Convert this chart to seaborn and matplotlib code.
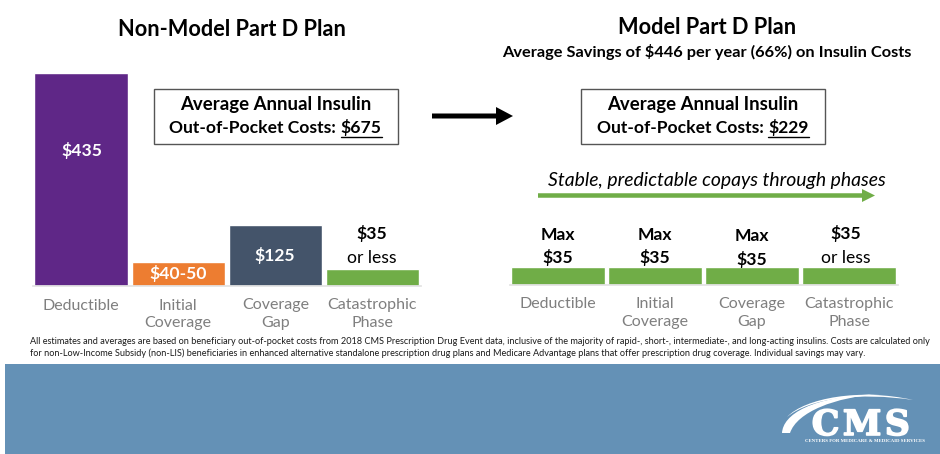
"""
plot.py
Part D insulin out-of-pocket costs: non-model plan vs model plan, per benefit phase.
"""

import matplotlib
matplotlib.use("Agg")
import matplotlib.patheffects as pe
import matplotlib.pyplot as plt
from matplotlib.patches import PathPatch, Rectangle
from matplotlib.path import Path
import pandas as pd
import seaborn as sns

# ── Data ──────────────────────────────────────────────────────────────────────
PHASES = ["Deductible", "Initial\nCoverage", "Coverage\nGap", "Catastrophic\nPhase"]
NON_MODEL_COSTS = [435, 50, 125, 35]
MODEL_COSTS = [35, 35, 35, 35]
NON_MODEL_COLORS = ["#5f2787", "#ed7d31", "#44546a", "#70ad47"]
MODEL_COLORS = ["#70ad47", "#70ad47", "#70ad47", "#70ad47"]

NON_MODEL_TOTAL = "$675"
MODEL_TOTAL = "$229"

FOOTNOTE = [
    "All estimates and averages are based on beneficiary out-of-pocket costs from 2018 CMS Prescription "
    "Drug Event data, inclusive of the majority of rapid-, short-, intermediate-, and long-acting insulins. "
    "Costs are calculated only",
    "for non-Low-Income Subsidy (non-LIS) beneficiaries in enhanced alternative standalone prescription "
    "drug plans and Medicare Advantage plans that offer prescription drug coverage. Individual savings may vary.",
]

W, H = 940, 454
PX_PER_DOLLAR = 213 / 435

sns.set_theme(style="white")
plt.rcParams["font.family"] = ["Lato", "DejaVu Sans"]
plt.rcParams["text.parse_math"] = False

fig = plt.figure(figsize=(W / 100, H / 100), dpi=100, facecolor="white")


def bar_axes(left, right, baseline, costs, colors):
    """One panel of bars, placed in pixel coordinates of the figure."""
    top = baseline - 435 * PX_PER_DOLLAR
    ax = fig.add_axes([left / W, 1 - baseline / H, (right - left) / W, (baseline - top) / H])
    df = pd.DataFrame({"phase": PHASES, "cost": costs})
    sns.barplot(data=df, x="phase", y="cost", hue="phase", palette=colors,
                legend=False, width=0.96, saturation=1, ax=ax)
    ax.set_ylim(0, 435)
    ax.set_xlim(-0.5, 3.5)
    ax.set_xlabel("")
    ax.set_ylabel("")
    ax.set_yticks([])
    ax.patch.set_alpha(0)
    sns.despine(ax=ax, left=True)
    ax.spines["bottom"].set_color("#e3e3e3")
    ax.tick_params(axis="x", length=0, pad=9)
    plt.setp(ax.get_xticklabels(), color="#7f7f7f", fontsize=11.5, linespacing=1.32)
    return ax


bar_axes(32.5, 421, 286, NON_MODEL_COSTS, NON_MODEL_COLORS)
bar_axes(509.5, 897.5, 284.5, MODEL_COSTS, MODEL_COLORS)

# overlay in image pixels for everything that is not a bar
ov = fig.add_axes([0, 0, 1, 1], zorder=5)
ov.set_xlim(0, W)
ov.set_ylim(H, 0)
ov.axis("off")


def label(x, y, s, size=12.6, weight="bold", color="black", **kw):
    return ov.text(x, y, s, fontsize=size, fontweight=weight, color=color,
                   ha=kw.pop("ha", "center"), va="center", **kw)


# headings
label(232, 29, "Non-Model Part D Plan", size=15.7)
label(707, 27, "Model Part D Plan", size=15.7)
label(706.5, 52.5, "Average Savings of $446 per year (66%) on Insulin Costs", size=11.8)


def total_box(x0, x1, amount):
    """Boxed total with the amount underlined."""
    ov.add_patch(Rectangle((x0, 88.5), x1 - x0, 55.5, fc="white", ec="#555555", lw=1.0))
    cx = (x0 + x1) / 2
    label(cx, 104.5, "Average Annual Insulin", size=13.4)
    renderer = fig.canvas.get_renderer()
    head = "Out-of-Pocket Costs:"
    probe = label(cx, 128, head + " " + amount, size=12.6)
    whole = probe.get_window_extent(renderer).width
    probe.remove()
    right = cx + whole / 2
    amount_text = label(right, 128, amount, size=12.6, ha="right")
    amount_w = amount_text.get_window_extent(renderer).width
    label(right - amount_w - 5, 128, head, size=12.6, ha="right")
    ov.plot([right - amount_w, right], [137, 137], color="black", lw=1.0)


total_box(154, 397.5, NON_MODEL_TOTAL)
total_box(581, 825, MODEL_TOTAL)

# arrows
ov.arrow(432, 116, 81, 0, width=5, head_width=18, head_length=17,
         length_includes_head=True, fc="black", ec="none")
ov.arrow(538, 195.5, 337, 0, width=4.5, head_width=13, head_length=13,
         length_includes_head=True, fc="#70ad47", ec="none")
label(716.5, 180.5, "Stable, predictable copays through phases", size=13.95,
      weight="normal", style="italic")

# bar labels, left panel
label(82, 150.5, "$435", color="white")
label(178, 274, "$40-50", color="white")
label(275, 256, "$125", color="white")
label(372, 234, "$35")
label(372, 258, "or less", weight="normal")

# bar labels, right panel
for cx, y0, y1 in [(558, 234.5, 258), (655, 234.5, 258), (752, 236, 259.5)]:
    label(cx, y0, "Max")
    label(cx, y1, "$35")
label(846, 234, "$35")
label(846, 258, "or less", weight="normal")

# footnote
for y, line in zip((342, 353), FOOTNOTE):
    ov.text(30, y, line, fontsize=6.62, color="#1a1a1a", ha="left", va="center")

# footer band
ov.add_patch(Rectangle((5, 364), W - 5, H - 364, fc="#6491b6", ec="none"))

# CMS logo
CURVE_CODES = [Path.MOVETO, Path.CURVE4, Path.CURVE4, Path.CURVE4,
               Path.CURVE4, Path.CURVE4, Path.CURVE4, Path.CLOSEPOLY]
lower = Path([(782, 433), (783, 415), (810, 396), (880, 394),
              (835, 397), (797, 412), (790, 433), (782, 433)], CURVE_CODES)
upper = Path([(787, 417), (805, 398), (860, 388), (913, 400),
              (860, 392), (810, 398), (787, 417), (787, 417)], CURVE_CODES)
ov.add_patch(PathPatch(lower, fc="white", ec="none"))
ov.add_patch(PathPatch(upper, fc="white", ec="none"))
logo = ov.text(861, 435, "C\u200aM\u200aS", fontsize=25, fontweight="bold", color="white",
               ha="center", va="baseline", family=["DejaVu Serif", "DejaVu Sans"])
logo.set_path_effects([pe.withStroke(linewidth=1.2, foreground="white")])
ov.text(865, 440.5, "CENTERS FOR MEDICARE & MEDICAID SERVICES", fontsize=3.55, fontweight="bold",
        color="white", ha="center", va="center", family=["Liberation Serif", "DejaVu Serif"])

fig.savefig("out.png", dpi=100)
plt.close(fig)
